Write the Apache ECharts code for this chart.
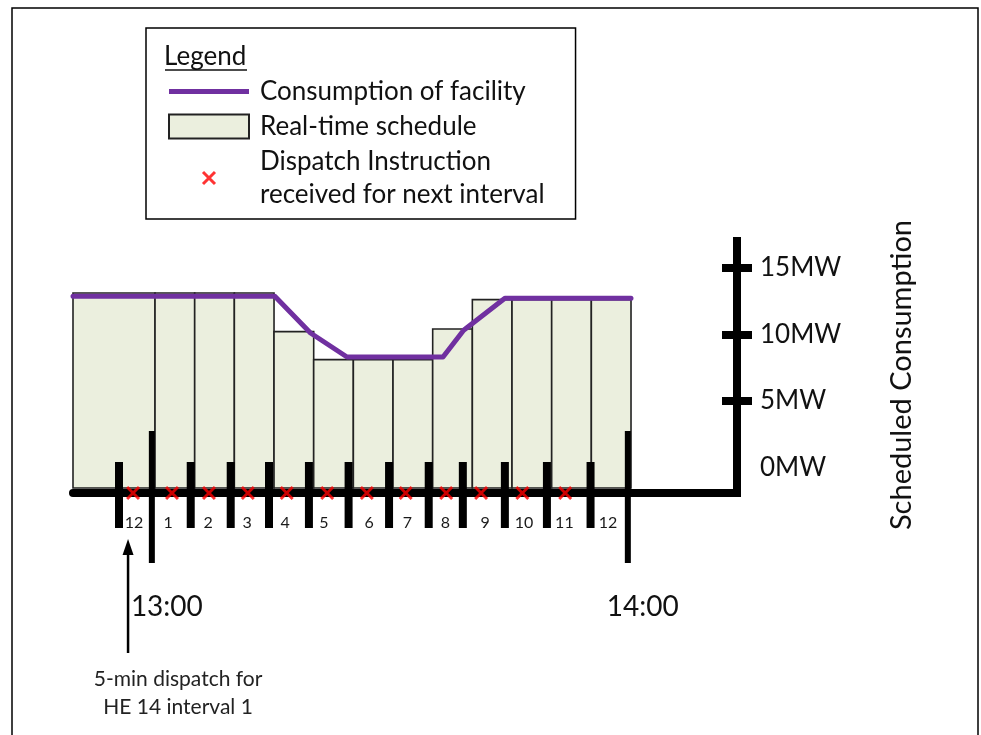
<!DOCTYPE html>
<html><head><meta charset="utf-8">
<script src="https://cdn.jsdelivr.net/npm/echarts@6/dist/echarts.min.js"></script>
<style>html,body{margin:0;padding:0;background:#fff}#c{width:981px;height:735px}</style>
</head><body><div id="c"></div>
<script>
// ---- data (minutes after 13:00, MW) ----
const scheduleStart = [-10.34, 0, 5, 10, 15, 20, 25, 30, 35, 40, 45, 50, 55];
const scheduleEnd   = [0, 5, 10, 15, 20, 25, 30, 35, 40, 45, 50, 55, 60];
const scheduleMW    = [13.1, 13.1, 13.1, 13.1, 10.2, 8.1, 8.1, 8.1, 10.4, 12.6, 12.6, 12.6, 12.6];
const consumptionMin = [-10.34, 15.1, 19.6, 24.2, 36.3, 38.9, 44.1, 60];
const consumptionMW  = [12.85, 12.85, 10.1, 8.3, 8.3, 10.3, 12.7, 12.7];
const dispatchMin = [-2.77, 2.14, 6.8, 11.7, 16.6, 21.7, 26.7, 31.6, 36.7, 41.1, 46.3, 51.7];
const intervalTickMin = [-4.54, 4.5, 9.54, 14.37, 19.4, 24.4, 29.5, 34.5, 38.8, 44.1, 49.4, 54.9];
const hourTickMin = [-0.4, 59.6];
const hourLabels = ['13:00', '14:00'];
const intervalLabelMin = [-2.65, 1.64, 6.68, 11.6, 16.4, 21.3, 27.0, 31.8, 36.6, 41.6, 46.5, 51.6, 57.1];
const intervalLabels = ['12','1','2','3','4','5','6','7','8','9','10','11','12'];
const mwTickValues = [5, 10, 15];
const mwLabelValues = [0, 5, 10, 15];
const mwLabels = ['0MW','5MW','10MW','15MW'];
const legendNames = ['Consumption of facility', 'Real-time schedule', 'Dispatch Instruction\nreceived for next interval'];
const annotationLines = ['5-min dispatch for', 'HE 14 interval 1'];
const ARROW_MIN = -3.4;

const X_MIN = -10.34, X_MAX = 73.36, Y_MIN = -1.9, Y_MAX = 17;
const FONT = 'Lato';
const PURPLE = '#7030A0', FILL = '#EBEFDE', RED = '#FF0000';
const X_PATH = 'M35.06,4.94L47.06,16.94L44.94,19.06L32.94,7.06Z M47.06,7.06L35.06,19.06L32.94,16.94L44.94,4.94Z';

const chart = echarts.init(document.getElementById('c'), null, {renderer: 'canvas'});

const scheduleData = scheduleStart.map((s, i) => [s, scheduleEnd[i], scheduleMW[i]]);
const consumptionData = consumptionMin.map((m, i) => [m, consumptionMW[i]]);
const dispatchData = dispatchMin.map(m => [m, Y_MIN]);

function tickRenderer(up, down, w) {
  return function (params, api) {
    const p = api.coord([api.value(0), Y_MIN]);
    return {type: 'rect', shape: {x: p[0] - w / 2, y: p[1] - up, width: w, height: up + down},
            style: {fill: '#000'}};
  };
}

const option = {
  backgroundColor: '#fff',
  animation: false,
  title: {
    text: 'Legend', left: 164, top: 44, padding: 0,
    textStyle: {fontFamily: FONT, fontSize: 26, fontWeight: 'normal', color: '#111'}
  },
  legend: {
    left: 146, top: 28, orient: 'vertical',
    padding: [47, 31, 8, 22],
    itemWidth: 80, itemHeight: 24, itemGap: 2,
    borderColor: '#000', borderWidth: 1.5,
    selectedMode: false,
    textStyle: {fontFamily: FONT, fontSize: 26, color: '#111', lineHeight: 33, padding: [0, 0, 0, 6]},
    data: [
      {name: legendNames[0], icon: 'path://M0,0H100V6H0Z', itemStyle: {color: PURPLE, borderWidth: 0}},
      {name: legendNames[1], icon: 'rect', itemStyle: {color: FILL, borderColor: '#222', borderWidth: 2}},
      {name: legendNames[2], icon: 'path://M0,0M80,24' + X_PATH, itemStyle: {color: RED, borderWidth: 0}}
    ]
  },
  grid: {left: 73, right: 244, top: 241, bottom: 242, containLabel: false},
  xAxis: [
    {
      type: 'value', min: X_MIN, max: X_MAX, position: 'bottom', z: 5,
      axisLine: {show: true, onZero: false, lineStyle: {color: '#000', width: 8}},
      axisTick: {show: false},
      splitLine: {show: false},
      axisLabel: {
        show: true, customValues: intervalLabelMin, margin: 22,
        fontFamily: FONT, fontSize: 16, color: '#1a1a1a',
        formatter: v => intervalLabels[intervalLabelMin.indexOf(v)]
      }
    },
    {
      type: 'value', min: X_MIN, max: X_MAX, position: 'bottom', offset: 0, z: 5,
      axisLine: {show: false, onZero: false}, axisTick: {show: false}, splitLine: {show: false},
      axisLabel: {
        show: true, customValues: hourTickMin, margin: 100,
        fontFamily: FONT, fontSize: 28, color: '#111', padding: [0, 0, 0, 30],
        formatter: v => hourLabels[hourTickMin.indexOf(v)]
      }
    }
  ],
  yAxis: [
    {
      type: 'value', min: Y_MIN, max: Y_MAX, position: 'right', z: 5,
      axisLine: {show: true, onZero: false, lineStyle: {color: '#000', width: 8, cap: 'square'}},
      axisTick: {show: true, inside: false, length: 15, customValues: mwTickValues, lineStyle: {color: '#000', width: 8}},
      splitLine: {show: false},
      axisLabel: {
        show: true, customValues: mwLabelValues, margin: 23,
        fontFamily: FONT, fontSize: 26, color: '#111',
        formatter: v => mwLabels[mwLabelValues.indexOf(v)]
      },
      name: 'Scheduled Consumption', nameLocation: 'middle', nameGap: 150,
      nameTextStyle: {fontFamily: FONT, fontSize: 29, color: '#111', padding: [0, 16, 0, 0]}
    },
    {
      type: 'value', min: Y_MIN, max: Y_MAX, position: 'right', offset: 0, z: 5,
      axisLine: {show: false, onZero: false},
      axisTick: {show: true, inside: true, length: 15, customValues: mwTickValues, lineStyle: {color: '#000', width: 8}},
      splitLine: {show: false}, axisLabel: {show: false}
    }
  ],
  series: [
    {
      name: legendNames[1], type: 'custom', z: 2, clip: false,
      encode: {x: [0, 1], y: 2},
      data: scheduleData,
      itemStyle: {color: FILL},
      renderItem: function (params, api) {
        const p0 = api.coord([api.value(0), api.value(2)]);
        const p1 = api.coord([api.value(1), Y_MIN]);
        return {type: 'rect', shape: {x: p0[0], y: p0[1], width: p1[0] - p0[0], height: p1[1] - p0[1] - 5},
                style: {fill: FILL, stroke: '#222', lineWidth: 1.6}};
      }
    },
    {
      name: legendNames[0], type: 'line', z: 4, symbol: 'none',
      data: consumptionData,
      lineStyle: {color: PURPLE, width: 5, cap: 'round', join: 'round'},
      itemStyle: {color: PURPLE}
    },
    {
      name: 'intervalTicks', type: 'custom', z: 6, clip: false,
      encode: {x: 0},
      data: intervalTickMin.map(m => [m]),
      renderItem: tickRenderer(31, 35, 8)
    },
    {
      name: 'hourTicks', type: 'custom', z: 6, clip: false,
      encode: {x: 0},
      data: hourTickMin.map(m => [m]),
      renderItem: tickRenderer(62, 70, 6)
    },
    {
      name: legendNames[2], type: 'scatter', z: 10, clip: false,
      symbol: 'path://' + X_PATH, symbolSize: 14,
      itemStyle: {color: RED},
      data: dispatchData
    }
  ]
};
chart.setOption(option);

// annotation graphics anchored on the time axis
const ax = chart.convertToPixel({xAxisIndex: 0}, ARROW_MIN);
chart.setOption({
  graphic: [
    {type: 'rect', silent: true, shape: {x: 12, y: 8, width: 966, height: 760},
     style: {fill: 'none', stroke: '#000', lineWidth: 1.5}, z: 0},
    {type: 'line', silent: true, shape: {x1: 165, y1: 70, x2: 247, y2: 70}, style: {stroke: '#111', lineWidth: 1.6}},
    {type: 'line', silent: true, shape: {x1: ax, y1: 653, x2: ax, y2: 552}, style: {stroke: '#000', lineWidth: 2.5}},
    {type: 'polygon', silent: true, shape: {points: [[ax, 539], [ax - 5.5, 555], [ax + 5.5, 555]]}, style: {fill: '#000'}},
    {type: 'text', silent: true, x: ax + 50, y: 679,
     style: {text: annotationLines[0], font: '21px ' + FONT, fill: '#222', align: 'center', verticalAlign: 'middle'}},
    {type: 'text', silent: true, x: ax + 50, y: 707,
     style: {text: annotationLines[1], font: '21px ' + FONT, fill: '#222', align: 'center', verticalAlign: 'middle'}}
  ]
});
</script>
</body></html>
